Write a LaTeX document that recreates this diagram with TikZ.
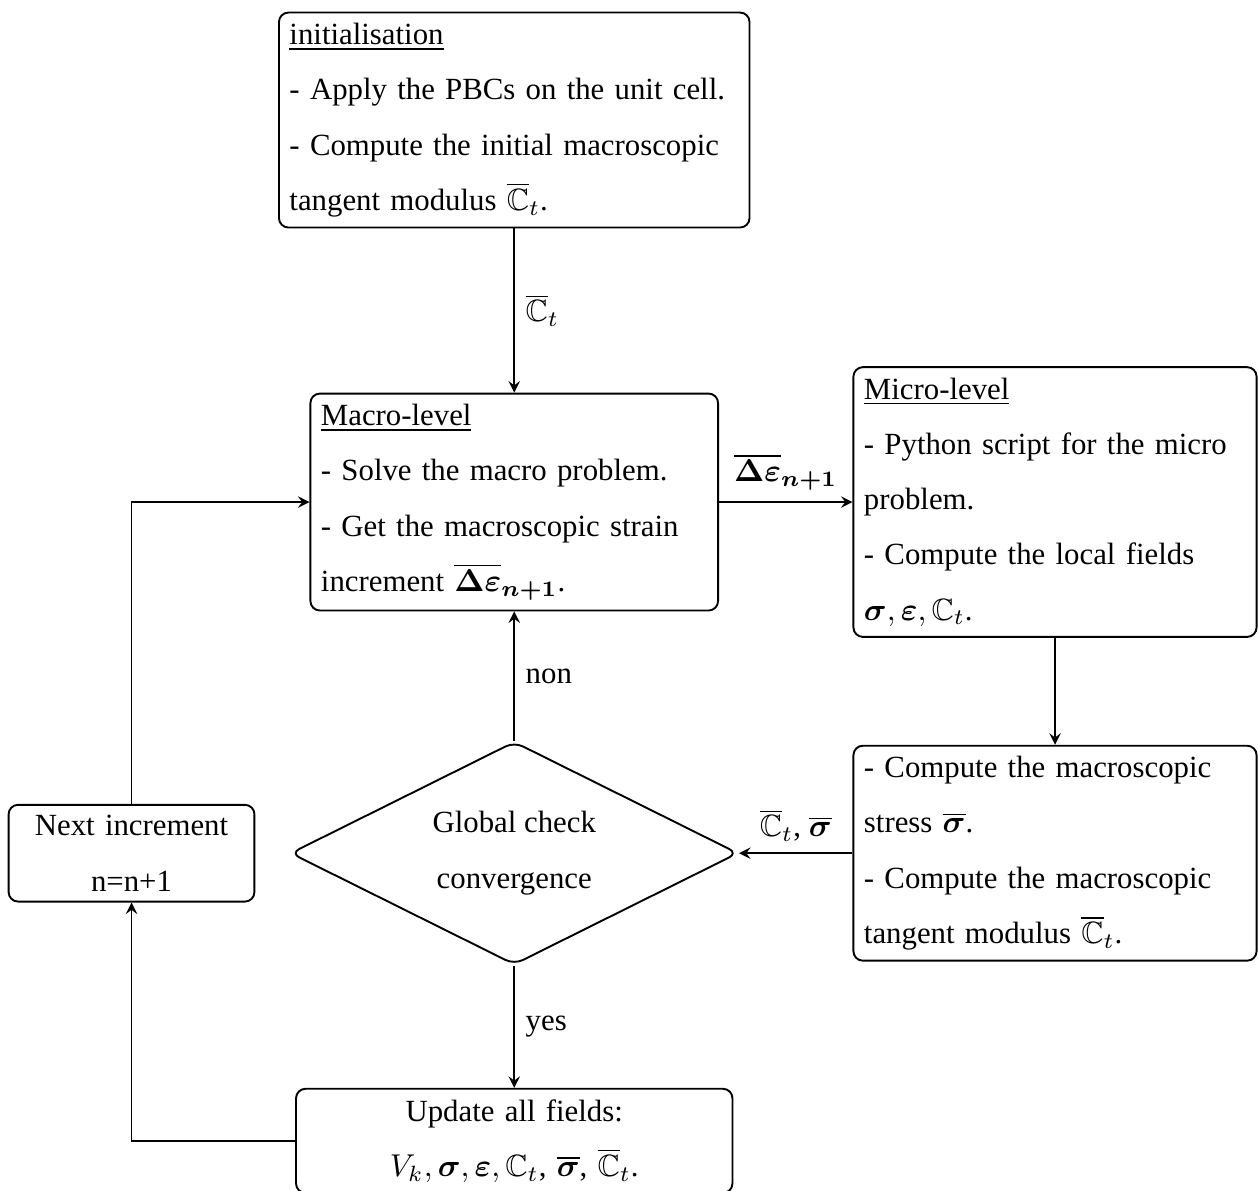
\documentclass[tikz,border=0pt]{standalone}
\usepackage{amsmath,amssymb,bm}
\usepackage{fontspec}
\setmainfont{Liberation Serif}
\usetikzlibrary{arrows,shapes.geometric}

\begin{document}
\begin{tikzpicture}[semithick, >=stealth,
  every node/.style={font=\fontsize{9.75}{17.5}\selectfont},
  box/.style={draw, rounded corners=3pt, align=left, text width=4.25cm},
  check/.style={draw, diamond, aspect=2, rounded corners=3pt, align=center, minimum width=4.98cm, minimum height=2.48cm}]

\useasboundingbox (0,0) rectangle (13.993,-13.247);

% the boxes
\node[box, text width=5cm] (init) at (5.72,-1.335) {\underline{initialisation}\\- Apply the PBCs on the unit cell.\\- Compute the initial macroscopic\\tangent modulus $\overline{\mathbb{C}}_t$.};
\node[box, text width=4.3cm] (macro) at (5.72,-5.584) {\underline{Macro-level}\\- Solve the macro problem.\\- Get the macroscopic strain\\increment $\overline{\bm{\Delta\varepsilon}}_{\bm{n+1}}$.};
\node[box] (micro) at (11.735,-5.584) {\underline{Micro-level}\\- Python script for the micro\\problem.\\- Compute the local fields\\$\bm{\sigma}, \bm{\varepsilon}, \mathbb{C}_t$.};
\node[box] (homog) at (11.735,-9.49) {- Compute the macroscopic\\stress $\overline{\bm{\sigma}}$.\\- Compute the macroscopic\\tangent modulus $\overline{\mathbb{C}}_t$.};
\node[check] (conv) at (5.72,-9.49) {Global check\\convergence};
\node[box, align=center, text width=4.62cm] (update) at (5.72,-12.69) {Update all fields:\\$V_k, \bm{\sigma}, \bm{\varepsilon}, \mathbb{C}_t$, $\overline{\bm{\sigma}}$, $\overline{\mathbb{C}}_t$.};
\node[box, align=center, text width=2.5cm] (next) at (1.463,-9.49) {Next increment\\n=n+1};

% the arrows
\draw[->] (init) -- node[right] {$\overline{\mathbb{C}}_t$} (macro);
\draw[->] (macro) -- node[above] {$\overline{\bm{\Delta\varepsilon}}_{\bm{n+1}}$} (micro);
\draw[->] (micro) -- (homog);
\draw[->] (homog) -- node[above] {$\overline{\mathbb{C}}_t$, $\overline{\bm{\sigma}}$} (conv);
\draw[->] (conv) -- node[right] {non} (macro);
\draw[->] (conv) -- node[right] {yes} (update);
\draw[->] (update.west) -| (next.south);
\draw[->] (next.north) |- (macro.west);

\end{tikzpicture}
\end{document}
